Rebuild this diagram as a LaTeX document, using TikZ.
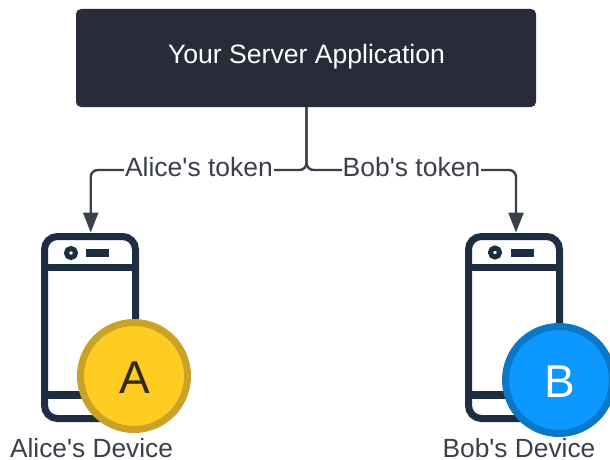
\documentclass[tikz,border=0pt]{standalone}
\usepackage{fontspec}
\newfontfamily\labfont{Liberation Sans}
\usetikzlibrary{arrows.meta,calc}
\definecolor{boxfill}{HTML}{282C3A}
\definecolor{linecol}{HTML}{3A3F4B}
\definecolor{phonecol}{HTML}{1C2E40}
\definecolor{yellowfill}{HTML}{FFCC22}
\definecolor{yellowring}{HTML}{C9A227}
\definecolor{bluefill}{HTML}{0C98FF}
\definecolor{bluering}{HTML}{0A78C8}
\definecolor{textcol}{HTML}{3A3F4B}
\tikzset{
  serverbox/.style={fill=boxfill,rounded corners=5pt,minimum width=460pt,minimum height=98pt,inner sep=0pt,outer sep=0pt},
  conn/.style={draw=linecol,line width=2.4pt,rounded corners=7pt},
  tip/.style={-{Triangle[length=20pt,width=15pt]}},
  edgelabel/.style={fill=white,inner sep=1pt,text=textcol,font=\labfont\fontsize{26.5}{30}\selectfont},
  devlabel/.style={text=textcol,inner sep=0pt,font=\labfont\fontsize{26.3}{30}\selectfont},
  titlelabel/.style={text=white,inner sep=0pt,font=\labfont\fontsize{26.6}{30}\selectfont},
  phone/.style={draw=phonecol,fill=white,line width=7pt,rounded corners=13pt,minimum width=91pt,minimum height=182pt,inner sep=0pt},
  bar/.style={draw=phonecol,line width=7.5pt},
  cam/.style={circle,draw=phonecol,fill=white,line width=5pt,minimum size=9pt,inner sep=0pt},
  speaker/.style={fill=phonecol,minimum width=23pt,minimum height=8pt,inner sep=0pt},
  badge/.style={circle,line width=7pt,minimum size=107pt,inner sep=0pt},
  badgeA/.style={badge,draw=yellowring,fill=yellowfill},
  badgeB/.style={badge,draw=bluering,fill=bluefill},
  letterA/.style={inner sep=0pt,font=\labfont\fontsize{46}{50}\selectfont,text=black!80!yellowfill},
  letterB/.style={inner sep=0pt,font=\labfont\fontsize{46}{50}\selectfont,text=white},
}
\begin{document}
\begin{tikzpicture}[x=1pt,y=-1pt]
\useasboundingbox (0,0) rectangle (610,460);
\clip (0,0) rectangle (610,460);
\fill[white] (0,0) rectangle (610,460);
\node[serverbox] (server) at (306,58) {};
\node[titlelabel] (title) at (306.5,57) {Your Server Application};
\node[phone] (phoneA) at (90,327.5) {};
\node[phone] (phoneB) at (514,327.5) {};
\coordinate (juncL) at (306.5,170);
\coordinate (tipA) at (90.7,232.5);
\coordinate (tipB) at (516,232.5);
\draw[conn,tip] (server.south -| juncL) -- (juncL) -| (tipA);
\draw[conn,tip] (server.south -| juncL) -- (juncL) -| (tipB);
\node[edgelabel] (la) at (199,167) {Alice's token};
\node[edgelabel] (lb) at (411.5,167) {Bob's token};
\draw[bar] (phoneA.west |- 0,267.5) -- (phoneA.east |- 0,267.5);
\draw[bar] (phoneA.west |- 0,395) -- (phoneA.east |- 0,395);
\draw[bar] (phoneB.west |- 0,267.5) -- (phoneB.east |- 0,267.5);
\draw[bar] (phoneB.west |- 0,395) -- (phoneB.east |- 0,395);
\node[cam] (camA) at (71,253) {};
\node[speaker] (spA) at (97.5,252.5) {};
\node[cam] (camB) at (495,252.5) {};
\node[speaker] (spB) at (522,252.5) {};
\node[badgeA] (badgeAn) at (134,376) {};
\node[badgeB] (badgeBn) at (559,380) {};
\node[letterA] (letA) at (135,378) {A};
\node[letterB] (letB) at (560,382) {B};
\node[devlabel] (da) at (91.5,448) {Alice's Device};
\node[devlabel] (db) at (519,448) {Bob's Device};
\end{tikzpicture}
\end{document}
